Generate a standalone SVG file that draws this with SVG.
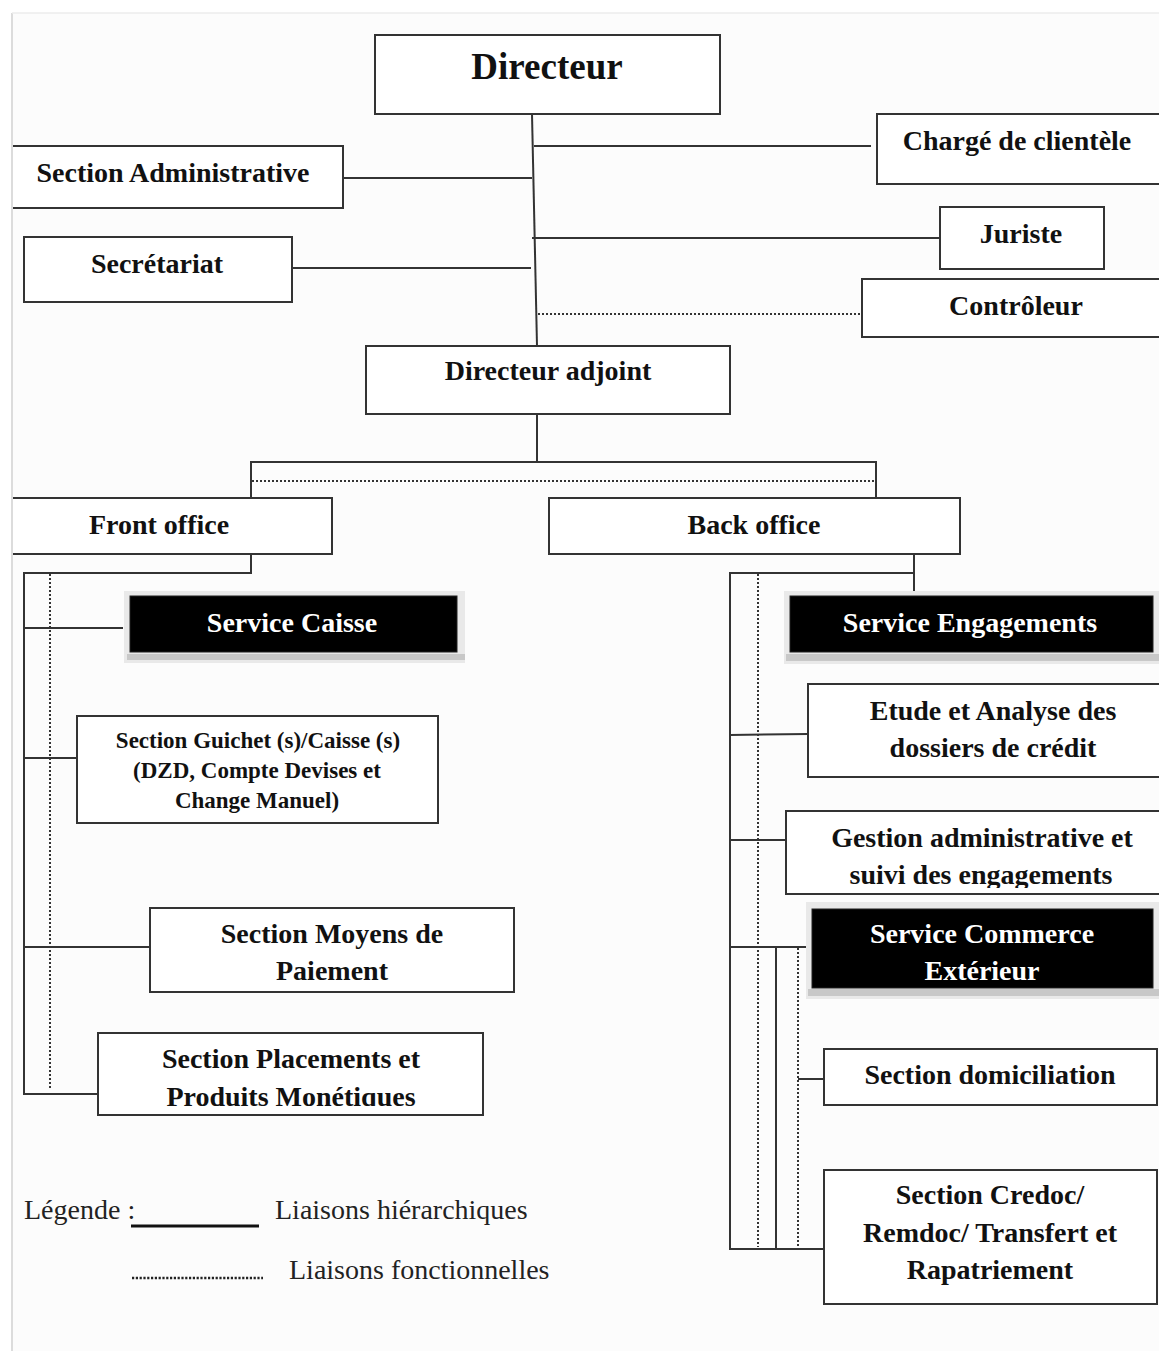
<svg xmlns="http://www.w3.org/2000/svg" width="1159" height="1351" viewBox="0 0 1159 1351">
<style>
.box{fill:#fff;stroke:#333;stroke-width:2}
.dark{fill:#000;stroke:#222;stroke-width:1}
.sh{fill:#e9e9e9}
.shb{fill:#c8c8c8}
.t{font-family:"Liberation Serif","Times New Roman",serif;font-weight:bold;font-size:28px;fill:#111;text-anchor:middle}
.w{fill:#fff}
.s{font-size:23px}
.big{font-size:37px}
.leg{font-family:"Liberation Serif","Times New Roman",serif;font-size:28px;fill:#222}
.ln{stroke:#333;stroke-width:2;fill:none}
.dt{stroke:#333;stroke-width:2;stroke-dasharray:2 2;fill:none}
</style>
<defs>
<clipPath id="clipGestion"><rect x="786" y="811" width="373" height="77"/></clipPath>
<clipPath id="clipPlac"><rect x="98" y="1033" width="385" height="73"/></clipPath>
</defs>
<rect x="0" y="0" width="1159" height="1351" fill="#ffffff"/>
<rect x="11" y="13" width="1160" height="1350" fill="#fcfcfc"/>

<g id="connectors">
<line class="ln" x1="532" y1="114" x2="537" y2="346"/>
<line class="ln" x1="343" y1="178" x2="532" y2="178"/>
<line class="ln" x1="292" y1="268" x2="531" y2="268"/>
<line class="ln" x1="534" y1="146" x2="871" y2="146"/>
<line class="ln" x1="532" y1="238" x2="940" y2="238"/>
<line class="dt" x1="538" y1="314" x2="860" y2="314"/>
<line class="ln" x1="537" y1="415" x2="537" y2="462"/>
<polyline class="ln" points="251,498 251,462 876,462 876,498"/>
<line class="dt" x1="252" y1="481" x2="875" y2="481"/>
<polyline class="ln" points="251,554 251,573 24,573 24,1094 98,1094"/>
<line class="dt" x1="50" y1="574" x2="50" y2="1090"/>
<line class="ln" x1="24" y1="628" x2="123" y2="628"/>
<line class="ln" x1="24" y1="758" x2="77" y2="758"/>
<line class="ln" x1="24" y1="947" x2="150" y2="947"/>
<polyline class="ln" points="914,554 914,592"/>
<polyline class="ln" points="914,573 730,573 730,1249 824,1249"/>
<line class="dt" x1="758" y1="574" x2="758" y2="1247"/>
<line class="ln" x1="730" y1="735" x2="808" y2="734"/>
<line class="ln" x1="730" y1="840" x2="786" y2="840"/>
<line class="ln" x1="730" y1="947" x2="808" y2="947"/>
<line class="ln" x1="776" y1="947" x2="776" y2="1249"/>
<line class="dt" x1="798" y1="948" x2="798" y2="1247"/>
<line class="ln" x1="798" y1="1079" x2="824" y2="1079"/>
</g>

<g id="directeur">
<rect class="box" x="375" y="35" width="345" height="79"/>
<text class="t big" x="547" y="79">Directeur</text>
</g>
<g id="charge-clientele">
<rect class="box" x="877" y="114" width="285" height="70"/>
<text class="t" x="1017" y="150">Chargé de clientèle</text>
</g>
<g id="section-administrative">
<rect class="box" x="-5" y="146" width="348" height="62"/>
<text class="t" x="173" y="182">Section Administrative</text>
</g>
<g id="juriste">
<rect class="box" x="940" y="207" width="164" height="62"/>
<text class="t" x="1021" y="243">Juriste</text>
</g>
<g id="secretariat">
<rect class="box" x="24" y="237" width="268" height="65"/>
<text class="t" x="157" y="273">Secrétariat</text>
</g>
<g id="controleur">
<rect class="box" x="862" y="279" width="300" height="58"/>
<text class="t" x="1016" y="315">Contrôleur</text>
</g>
<g id="directeur-adjoint">
<rect class="box" x="366" y="346" width="364" height="68"/>
<text class="t" x="548" y="380">Directeur adjoint</text>
</g>
<g id="front-office">
<rect class="box" x="-5" y="498" width="337" height="56"/>
<text class="t" x="159" y="534">Front office</text>
</g>
<g id="back-office">
<rect class="box" x="549" y="498" width="411" height="56"/>
<text class="t" x="754" y="534">Back office</text>
</g>
<g id="service-caisse">
<rect class="sh" x="124" y="591" width="341" height="72"/>
<rect class="shb" x="127" y="654" width="338" height="6"/>
<rect class="dark" x="130" y="596" width="327" height="56"/>
<text class="t w" x="292" y="632">Service Caisse</text>
</g>
<g id="section-guichet">
<rect class="box" x="77" y="716" width="361" height="107"/>
<text class="t s" x="258" y="748">Section Guichet (s)/Caisse (s)</text>
<text class="t s" x="257" y="778">(DZD, Compte Devises et</text>
<text class="t s" x="257" y="808">Change Manuel)</text>
</g>
<g id="section-moyens-paiement">
<rect class="box" x="150" y="908" width="364" height="84"/>
<text class="t" x="332" y="943">Section Moyens de</text>
<text class="t" x="332" y="980">Paiement</text>
</g>
<g id="section-placements">
<rect class="box" x="98" y="1033" width="385" height="82"/>
<text class="t" x="291" y="1068">Section Placements et</text>
<text class="t" x="291" y="1106" clip-path="url(#clipPlac)">Produits Monétiques</text>
</g>
<g id="service-engagements">
<rect class="sh" x="784" y="591" width="380" height="73"/>
<rect class="shb" x="786" y="654" width="378" height="7"/>
<rect class="dark" x="790" y="596" width="363" height="56"/>
<text class="t w" x="970" y="632">Service Engagements</text>
</g>
<g id="etude-analyse">
<rect class="box" x="808" y="684" width="360" height="93"/>
<text class="t" x="993" y="720">Etude et Analyse des</text>
<text class="t" x="993" y="757">dossiers de crédit</text>
</g>
<g id="gestion-administrative">
<rect class="box" x="786" y="811" width="380" height="83"/>
<text class="t" x="982" y="847">Gestion administrative et</text>
<text class="t" x="981" y="884" clip-path="url(#clipGestion)">suivi des engagements</text>
</g>
<g id="service-commerce-exterieur">
<rect class="sh" x="806" y="902" width="358" height="97"/>
<rect class="shb" x="808" y="989" width="356" height="7"/>
<rect class="dark" x="812" y="909" width="341" height="79"/>
<text class="t w" x="982" y="943">Service Commerce</text>
<text class="t w" x="982" y="980">Extérieur</text>
</g>
<g id="section-domiciliation">
<rect class="box" x="824" y="1049" width="333" height="56"/>
<text class="t" x="990" y="1084">Section domiciliation</text>
</g>
<g id="section-credoc">
<rect class="box" x="824" y="1170" width="333" height="134"/>
<text class="t" x="990" y="1204">Section Credoc/</text>
<text class="t" x="990" y="1242">Remdoc/ Transfert et</text>
<text class="t" x="990" y="1279">Rapatriement</text>
</g>

<g id="legende">
<text class="leg" x="24" y="1219">Légende :</text>
<line x1="131" y1="1226" x2="259" y2="1226" stroke="#111" stroke-width="3"/>
<text class="leg" x="275" y="1219">Liaisons hiérarchiques</text>
<line x1="132" y1="1278" x2="263" y2="1278" stroke="#222" stroke-width="2.5" stroke-dasharray="2.2 1.6"/>
<text class="leg" x="289" y="1279">Liaisons fonctionnelles</text>
</g>

<g id="page-edge">
<rect x="0" y="0" width="12" height="1351" fill="#ffffff"/>
<line x1="12" y1="13" x2="12" y2="1351" stroke="#dcdcdc" stroke-width="2"/>
<line x1="12" y1="13" x2="1159" y2="13" stroke="#ececec" stroke-width="1.5"/>
</g>
</svg>
